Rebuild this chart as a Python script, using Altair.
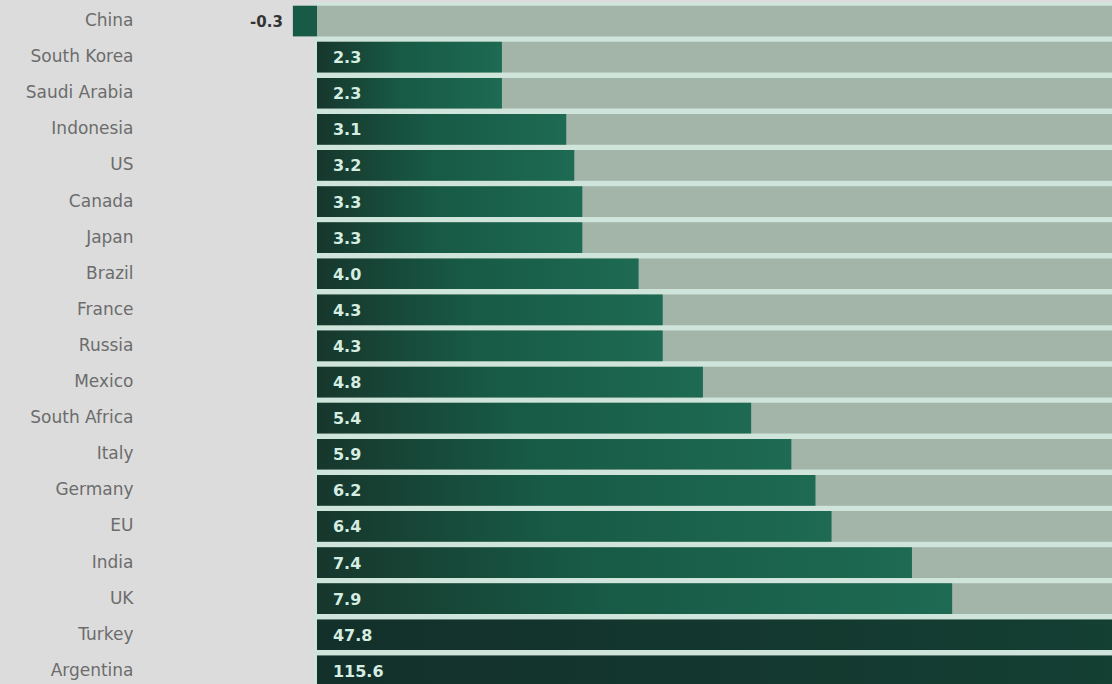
import altair as alt
import pandas as pd

countries = ["China", "South Korea", "Saudi Arabia", "Indonesia", "US", "Canada", "Japan",
             "Brazil", "France", "Russia", "Mexico", "South Africa", "Italy", "Germany",
             "EU", "India", "UK", "Turkey", "Argentina"]
values = [-0.3, 2.3, 2.3, 3.1, 3.2, 3.3, 3.3, 4.0, 4.3, 4.3, 4.8, 5.4, 5.9, 6.2, 6.4, 7.4, 7.9, 47.8, 115.6]
labels = ["-0.3", "2.3", "2.3", "3.1", "3.2", "3.3", "3.3", "4.0", "4.3", "4.3", "4.8", "5.4",
          "5.9", "6.2", "6.4", "7.4", "7.9", "47.8", "115.6"]

XMIN, XMAX = -2.077, 9.888
W = 962
STEP = 36.1

df = pd.DataFrame({"country": countries, "value": values, "label": labels, "zero": 0.0, "xmax": XMAX})

FONT = "DejaVu Sans"

x_scale = alt.Scale(domain=[XMIN, XMAX], clamp=True, nice=False, zero=False)
y_enc = alt.Y("country:N", sort=countries, title=None,
              scale=alt.Scale(paddingInner=0.15, paddingOuter=0.075),
              axis=alt.Axis(domain=False, ticks=False, labelPadding=17, labelFontSize=17,
                            labelColor="#6c6c6c", labelFont=FONT, labelLimit=300))

base = alt.Chart(df)

gap = base.mark_bar(color="#cfe4da", stroke="#cfe4da", strokeWidth=6).encode(
    x=alt.X("zero:Q", scale=x_scale, axis=None, title=None),
    x2="xmax:Q",
    y=y_enc,
)

track = base.mark_bar(color="#a3b4a9").encode(
    x=alt.X("zero:Q", scale=x_scale, axis=None, title=None),
    x2="xmax:Q",
    y=y_enc,
)

grad = alt.Gradient(gradient="linear", x1=0, x2=1, y1=0, y2=0,
                    stops=[alt.GradientStop(offset=0, color="#17362c"),
                           alt.GradientStop(offset=0.45, color="#175a45"),
                           alt.GradientStop(offset=1, color="#1e6a52")])
grad_dark = alt.Gradient(gradient="linear", x1=0, x2=1, y1=0, y2=0,
                         stops=[alt.GradientStop(offset=0, color="#13302a"),
                                alt.GradientStop(offset=1, color="#143f33")])

bars = base.mark_bar(color=grad).encode(
    x=alt.X("value:Q", scale=x_scale, axis=None, title=None),
    x2="zero:Q",
    y=y_enc,
).transform_filter(f"datum.value <= {XMAX} && datum.value >= 0")

bars_neg = base.mark_bar(color="#175a45").encode(
    x=alt.X("value:Q", scale=x_scale, axis=None, title=None),
    x2="zero:Q",
    y=y_enc,
).transform_filter("datum.value < 0")

bars_big = base.mark_bar(color=grad_dark).encode(
    x=alt.X("value:Q", scale=x_scale, axis=None, title=None),
    x2="zero:Q",
    y=y_enc,
).transform_filter(f"datum.value > {XMAX}")

txt_pos = base.mark_text(align="left", baseline="middle", dx=16, dy=1, fontSize=16,
                         fontWeight="bold", color="#d6ede2", font=FONT).encode(
    x=alt.X("zero:Q", scale=x_scale, axis=None, title=None),
    y=y_enc,
    text="label:N",
).transform_filter("datum.value >= 0")

txt_neg = base.mark_text(align="right", baseline="middle", dx=-10, dy=1, fontSize=15,
                         fontWeight="bold", color="#333333", font=FONT).encode(
    x=alt.X("value:Q", scale=x_scale, axis=None, title=None),
    y=y_enc,
    text="label:N",
).transform_filter("datum.value < 0")

chart = alt.layer(gap, track, bars, bars_neg, bars_big, txt_pos, txt_neg).properties(
    width=W,
    height=alt.Step(STEP),
    background="#dcdcdc",
    padding={"left": 150, "top": 3, "right": 0, "bottom": 0},
    autosize=alt.AutoSizeParams(type="none"),
).configure_view(stroke=None)

chart.save("out.html", embed_options={"renderer": "svg", "actions": False})
